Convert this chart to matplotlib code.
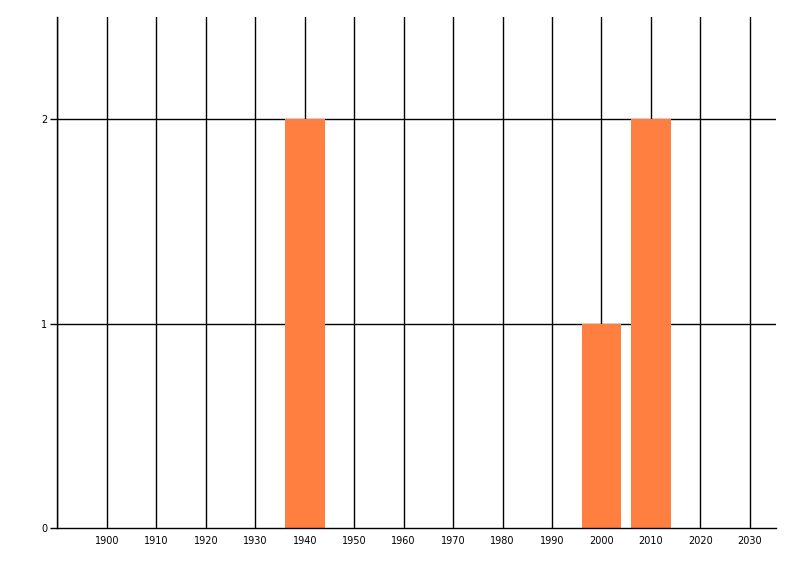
import matplotlib.pyplot as plt
import numpy as np

years = [1940, 2000, 2010]
counts = [2, 1, 2]
tick_years = list(range(1900, 2031, 10))
y_ticks = [0, 1, 2]

fig = plt.figure(figsize=(8, 5.76), dpi=100)
ax = fig.add_axes([57 / 800, 48 / 576, (776 - 57) / 800, (528 - 17) / 576])

# grid lines behind the bars
for x in range(1890, 2031, 10):
    ax.axvline(x, color='black', lw=1, zorder=1)
for y in y_ticks[1:]:
    ax.axhline(y, color='black', lw=1, zorder=1)

ax.bar(years, counts, width=8, color='#FF7F40', zorder=2)

ax.set_xlim(1889.9, 2035.3)
ax.set_ylim(0, 2.5)
ax.set_xticks(tick_years)
ax.set_xticklabels([str(t) for t in tick_years], fontsize=7)
ax.set_yticks(y_ticks)
ax.set_yticklabels([str(t) for t in y_ticks], fontsize=7)
ax.tick_params(axis='x', length=0, pad=6)
ax.tick_params(axis='y', length=5, width=1, pad=2)

for side in ['top', 'right']:
    ax.spines[side].set_visible(False)
for side in ['left', 'bottom']:
    ax.spines[side].set_linewidth(1)
    ax.spines[side].set_zorder(3)

fig.savefig('out.png', dpi=100)
